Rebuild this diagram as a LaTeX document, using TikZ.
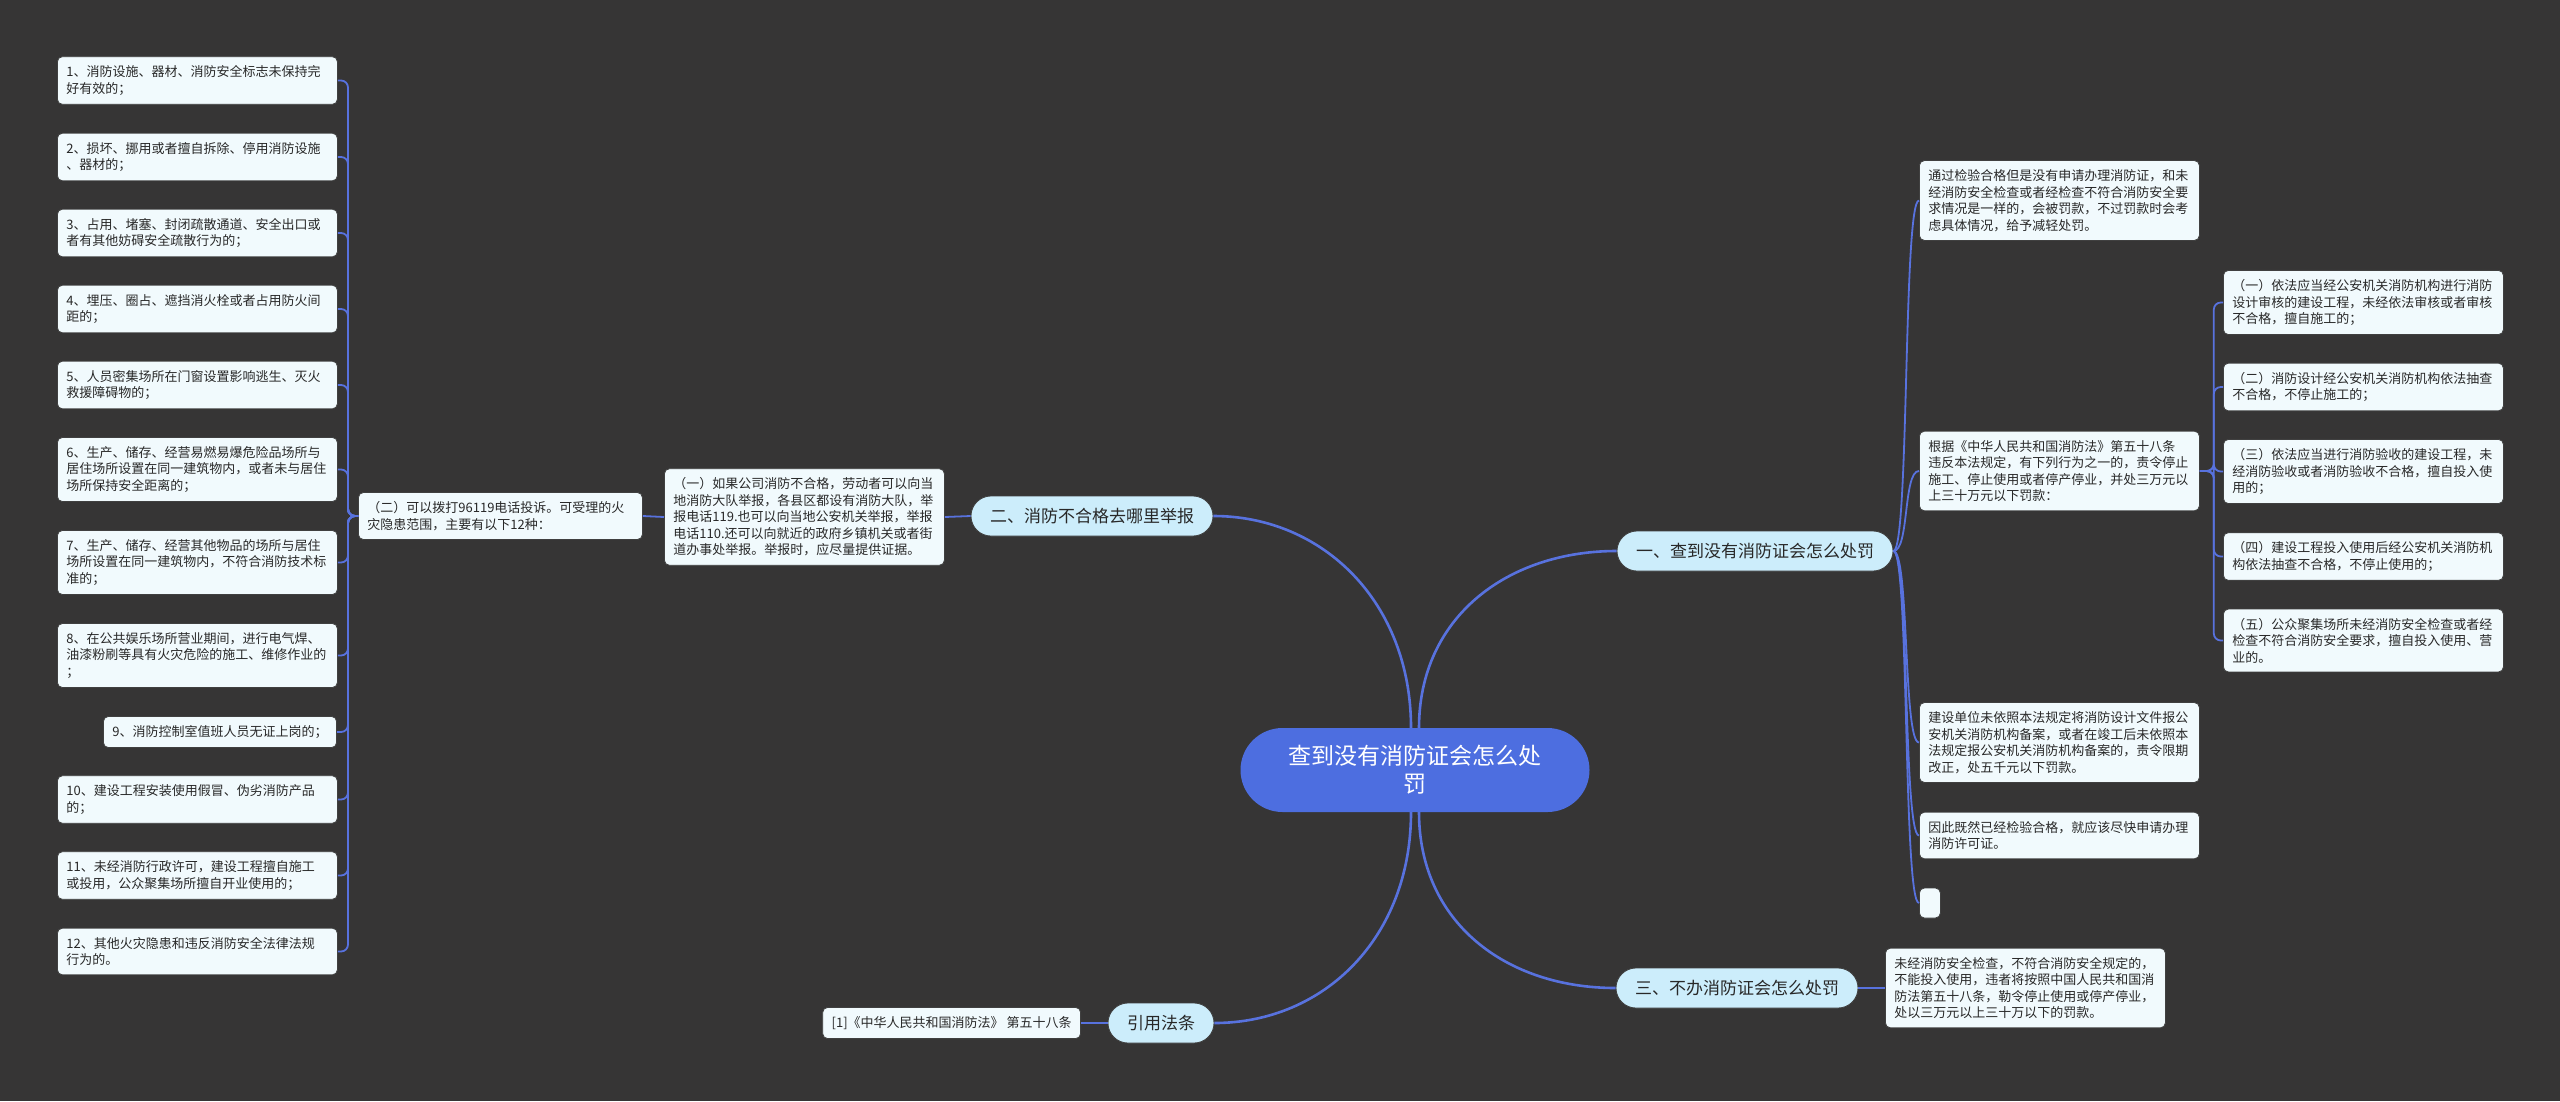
\documentclass[tikz,border=0pt]{standalone}
\usepackage{fontspec}
\setmainfont{Noto Sans CJK SC}
\usepackage{tikz}

\definecolor{bgcol}{RGB}{54,53,53}
\definecolor{linecol}{RGB}{88,114,222}
\definecolor{leafcol}{RGB}{241,250,253}
\definecolor{branchcol}{RGB}{204,237,251}
\definecolor{rootcol}{RGB}{77,110,224}
\definecolor{textcol}{RGB}{40,40,40}

\begin{document}
\begin{tikzpicture}[x=1pt, y=-1pt]
    \tikzstyle{leaf}=[fill=leafcol, draw=black!75, line width=0.8pt, rounded corners=5pt, text=textcol, inner xsep=9pt, inner ysep=9pt, text width=262pt, align=left, font=\fontsize{13}{16.5}\selectfont, anchor=west]
    \tikzstyle{branch}=[fill=branchcol, draw=black!75, line width=0.8pt, rounded corners=20pt, minimum height=40pt, inner xsep=19pt, text=textcol, font=\fontsize{17}{20}\selectfont]
    \tikzstyle{rootbox}=[fill=rootcol, rounded corners=42pt, minimum width=349pt, minimum height=84pt, text=white, align=center, font=\fontsize{23}{28}\selectfont]
    \tikzstyle{link}=[draw=linecol, line width=2.6pt]
    \tikzstyle{twig}=[draw=linecol, line width=1.8pt, rounded corners=7pt]

    \fill[bgcol] (0,0) rectangle (2560,1101);
    \useasboundingbox (0,0) rectangle (2560,1101);

    % centre and main branches
    \node[rootbox] (root) at (1415,770) {查到没有消防证会怎么处\\罚};
    \node[branch] (b1) at (1755,551) {一、查到没有消防证会怎么处罚};
    \node[branch] (b2) at (1092,516) {二、消防不合格去哪里举报};
    \node[branch] (b3) at (1737,988) {三、不办消防证会怎么处罚};
    \node[branch] (b4) at (1161,1023) {引用法条};

    % left side
    \node[leaf] (q1) at (664,517) {（一）如果公司消防不合格，劳动者可以向当\\地消防大队举报，各县区都设有消防大队，举\\报电话119.也可以向当地公安机关举报，举报\\电话110.还可以向就近的政府乡镇机关或者街\\道办事处举报。举报时，应尽量提供证据。};
    \node[leaf, text width=266pt] (q2) at (358,516) {（二）可以拨打96119电话投诉。可受理的火\\灾隐患范围，主要有以下12种：};

    \node[leaf] (l1) at (57,80.5) {1、消防设施、器材、消防安全标志未保持完\\好有效的；};
    \node[leaf] (l2) at (57,157) {2、损坏、挪用或者擅自拆除、停用消防设施\\、器材的；};
    \node[leaf] (l3) at (57,233) {3、占用、堵塞、封闭疏散通道、安全出口或\\者有其他妨碍安全疏散行为的；};
    \node[leaf] (l4) at (57,309) {4、埋压、圈占、遮挡消火栓或者占用防火间\\距的；};
    \node[leaf] (l5) at (57,385) {5、人员密集场所在门窗设置影响逃生、灭火\\救援障碍物的；};
    \node[leaf] (l6) at (57,469.5) {6、生产、储存、经营易燃易爆危险品场所与\\居住场所设置在同一建筑物内，或者未与居住\\场所保持安全距离的；};
    \node[leaf] (l7) at (57,562.5) {7、生产、储存、经营其他物品的场所与居住\\场所设置在同一建筑物内，不符合消防技术标\\准的；};
    \node[leaf] (l8) at (57,655.5) {8、在公共娱乐场所营业期间，进行电气焊、\\油漆粉刷等具有火灾危险的施工、维修作业的\\；};
    \node[leaf, text width=, anchor=east] (l9) at (337,732) {9、消防控制室值班人员无证上岗的；};
    \node[leaf] (l10) at (57,799.5) {10、建设工程安装使用假冒、伪劣消防产品\\的；};
    \node[leaf] (l11) at (57,875.5) {11、未经消防行政许可，建设工程擅自施工\\或投用，公众聚集场所擅自开业使用的；};
    \node[leaf] (l12) at (57,951.5) {12、其他火灾隐患和违反消防安全法律法规\\行为的。};

    % right side
    \node[leaf] (r1) at (1919,200.5) {通过检验合格但是没有申请办理消防证，和未\\经消防安全检查或者经检查不符合消防安全要\\求情况是一样的，会被罚款，不过罚款时会考\\虑具体情况，给予减轻处罚。};
    \node[leaf] (r2) at (1919,471) {根据《中华人民共和国消防法》第五十八条\\违反本法规定，有下列行为之一的，责令停止\\施工、停止使用或者停产停业，并处三万元以\\上三十万元以下罚款：};
    \node[leaf] (r3) at (1919,742.5) {建设单位未依照本法规定将消防设计文件报公\\安机关消防机构备案，或者在竣工后未依照本\\法规定报公安机关消防机构备案的，责令限期\\改正，处五千元以下罚款。};
    \node[leaf] (r4) at (1919,835.5) {因此既然已经检验合格，就应该尽快申请办理\\消防许可证。};
    \node[leaf, text width=3pt, minimum height=30pt] (r5) at (1919,903) {};

    \node[leaf] (s1) at (2223,302.5) {（一）依法应当经公安机关消防机构进行消防\\设计审核的建设工程，未经依法审核或者审核\\不合格，擅自施工的；};
    \node[leaf] (s2) at (2223,387) {（二）消防设计经公安机关消防机构依法抽查\\不合格，不停止施工的；};
    \node[leaf] (s3) at (2223,471.5) {（三）依法应当进行消防验收的建设工程，未\\经消防验收或者消防验收不合格，擅自投入使\\用的；};
    \node[leaf] (s4) at (2223,556.5) {（四）建设工程投入使用后经公安机关消防机\\构依法抽查不合格，不停止使用的；};
    \node[leaf] (s5) at (2223,640.5) {（五）公众聚集场所未经消防安全检查或者经\\检查不符合消防安全要求，擅自投入使用、营\\业的。};

    \node[leaf] (t1) at (1885,988) {未经消防安全检查，不符合消防安全规定的，\\不能投入使用，违者将按照中国人民共和国消\\防法第五十八条，勒令停止使用或停产停业，\\处以三万元以上三十万以下的罚款。};
    \node[leaf, text width=, anchor=east] (c1) at (1081,1023) {[1]《中华人民共和国消防法》 第五十八条};

    % connectors
    \draw[link] ([xshift=4pt]root.north) .. controls +(0,-110) and +(-110,0) .. (b1.west);
    \draw[link] ([xshift=-4pt]root.north) .. controls +(0,-125) and +(110,0) .. (b2.east);
    \draw[link] ([xshift=4pt]root.south) .. controls +(0,110) and +(-110,0) .. (b3.west);
    \draw[link] ([xshift=-4pt]root.south) .. controls +(0,125) and +(110,0) .. (b4.east);

    \draw[twig] (b2.west) -- (q1.east);
    \draw[twig] (q1.west) -- (q2.east);
    \draw[twig] (q2.west) -- ++(-10,0) |- (l1.east);
    \draw[twig] (q2.west) -- ++(-10,0) |- (l2.east);
    \draw[twig] (q2.west) -- ++(-10,0) |- (l3.east);
    \draw[twig] (q2.west) -- ++(-10,0) |- (l4.east);
    \draw[twig] (q2.west) -- ++(-10,0) |- (l5.east);
    \draw[twig] (q2.west) -- ++(-10,0) |- (l6.east);
    \draw[twig] (q2.west) -- ++(-10,0) |- (l7.east);
    \draw[twig] (q2.west) -- ++(-10,0) |- (l8.east);
    \draw[twig] (q2.west) -- ++(-10,0) |- (l9.east);
    \draw[twig] (q2.west) -- ++(-10,0) |- (l10.east);
    \draw[twig] (q2.west) -- ++(-10,0) |- (l11.east);
    \draw[twig] (q2.west) -- ++(-10,0) |- (l12.east);

    \draw[twig] (b1.east) .. controls +(16,0) and +(-16,0) .. (r1.west);
    \draw[twig] (b1.east) .. controls +(16,0) and +(-16,0) .. (r2.west);
    \draw[twig] (b1.east) .. controls +(16,0) and +(-16,0) .. (r3.west);
    \draw[twig] (b1.east) .. controls +(16,0) and +(-16,0) .. (r4.west);
    \draw[twig] (b1.east) .. controls +(16,0) and +(-16,0) .. (r5.west);

    \draw[twig] (r2.east) -- ++(14,0) |- (s1.west);
    \draw[twig] (r2.east) -- ++(14,0) |- (s2.west);
    \draw[twig] (r2.east) -- ++(14,0) |- (s3.west);
    \draw[twig] (r2.east) -- ++(14,0) |- (s4.west);
    \draw[twig] (r2.east) -- ++(14,0) |- (s5.west);

    \draw[twig] (b3.east) -- (t1.west);
    \draw[twig] (b4.west) -- (c1.east);
\end{tikzpicture}
\end{document}
